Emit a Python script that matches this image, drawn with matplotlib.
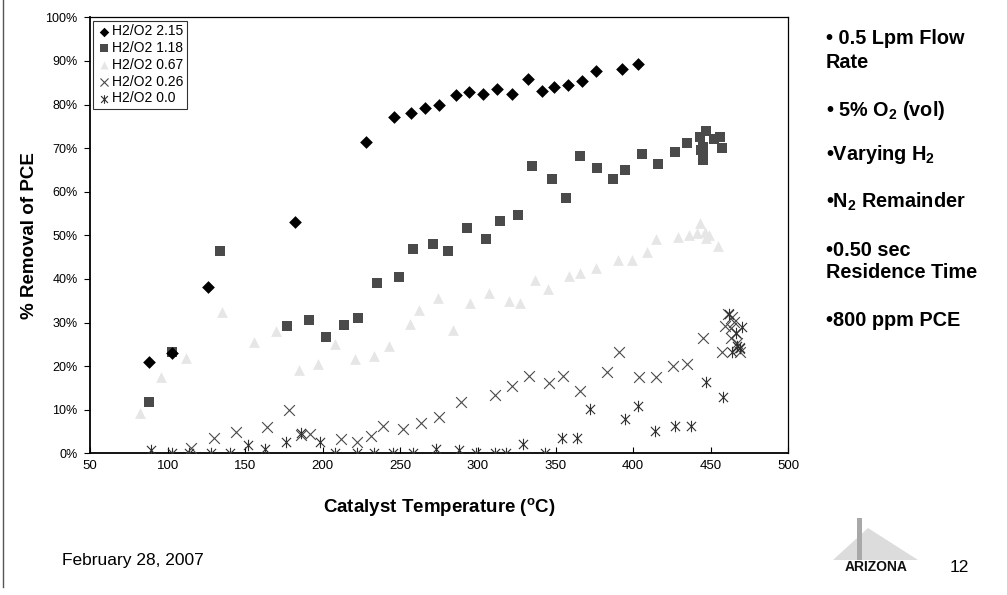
import matplotlib
matplotlib.use("Agg")
import matplotlib.pyplot as plt
from matplotlib.patches import Polygon, Rectangle
from matplotlib.lines import Line2D
from matplotlib.path import Path

plt.rcParams['font.family'] = ['Liberation Sans', 'DejaVu Sans']
plt.rcParams['mathtext.fontset'] = 'custom'
plt.rcParams['mathtext.rm'] = 'Liberation Sans'
plt.rcParams['mathtext.bf'] = 'Liberation Sans:bold'
plt.rcParams['mathtext.it'] = 'Liberation Sans:italic'

# ---- data ----
t_215 = [88, 103, 126, 182, 228, 246, 257, 266, 275, 286, 294, 303, 312, 322, 332, 341, 349, 358, 367, 376, 393, 403]
r_215 = [21.0, 23.0, 38.1, 53.0, 71.5, 77.2, 78.1, 79.3, 79.8, 82.2, 82.9, 82.3, 83.6, 82.3, 85.8, 83.1, 83.9, 84.5, 85.5, 87.6, 88.2, 89.2]

t_118 = [88, 103, 134, 177, 191, 202, 214, 223, 235, 249, 258, 271, 281, 293, 305, 314, 326, 335, 348, 357, 366, 377, 387, 395, 406, 416, 427, 435,
         443, 447, 445, 445, 445, 444, 452, 456, 457]
r_118 = [11.7, 23.2, 46.4, 29.1, 30.6, 26.6, 29.4, 31.1, 39.1, 40.5, 46.9, 48.1, 46.4, 51.7, 49.1, 53.2, 54.7, 66.0, 62.9, 58.5, 68.3, 65.4, 62.9, 65.0, 68.6, 66.4, 69.1, 71.1,
         72.6, 74.0, 70.3, 68.8, 67.3, 69.5, 72.2, 72.6, 70.1]

t_067 = [82, 96, 112, 135, 156, 170, 185, 197, 208, 221, 233, 243, 256, 262, 274, 284, 295, 307, 320, 327, 337, 345, 359, 366, 376, 390, 399, 409, 415, 429, 436,
         441, 443, 446, 447, 449, 455]
r_067 = [9.2, 17.6, 21.8, 32.3, 25.6, 28.1, 19.1, 20.5, 25.1, 21.6, 22.4, 24.5, 29.6, 32.9, 35.6, 28.3, 34.5, 36.8, 34.9, 34.5, 39.7, 37.7, 40.7, 41.4, 42.6, 44.3, 44.3, 46.1, 49.2, 49.5, 50.0,
         50.5, 52.8, 50.8, 49.3, 50.0, 47.6]

t_026 = [115, 130, 144, 164, 178, 186, 192, 212, 222, 231, 239, 252, 263, 275, 289, 311, 322, 333, 346, 355, 366, 383, 391, 404, 415, 426, 435, 445,
         457, 459, 461, 464, 465, 463, 466, 463, 467, 468, 469]
r_026 = [1.3, 3.4, 5.0, 6.0, 9.9, 4.2, 4.4, 3.3, 2.7, 4.0, 6.3, 5.5, 7.0, 8.3, 11.8, 13.4, 15.5, 17.7, 16.1, 17.7, 14.3, 18.6, 23.3, 17.6, 17.4, 20.0, 20.5, 26.4,
         23.3, 29.2, 31.9, 31.3, 30.2, 28.7, 27.5, 26.4, 25.2, 24.1, 23.3]

t_000 = [89, 103, 114, 128, 140, 152, 163, 176, 186, 198, 208, 222, 233, 245, 258, 273, 288, 299, 311, 318, 329, 343, 354, 364, 372, 395, 403, 414, 427, 437, 447, 458,
         462, 464, 466, 467, 469, 470]
r_000 = [0.8, 0, 0, 0, 0, 1.9, 1.1, 2.7, 4.6, 2.5, 0, 0, 0, 0, 0, 0.9, 0.8, 0, 0, 0, 2.1, 0, 3.4, 3.6, 10.2, 7.9, 10.9, 5.1, 6.3, 6.3, 16.3, 12.8,
         32.0, 23.3, 27.5, 24.5, 24.1, 29.0]

labels = ['H2/O2 2.15', 'H2/O2 1.18', 'H2/O2 0.67', 'H2/O2 0.26', 'H2/O2 0.0']
y_ticks = list(range(0, 101, 10))
y_ticklabels = [f'{v}%' for v in y_ticks]
x_ticks = list(range(50, 501, 50))

# asterisk marker: vertical bar + X
star = Path([(0, -1), (0, 1), (-0.8, -0.8), (0.8, 0.8), (-0.8, 0.8), (0.8, -0.8)],
            [Path.MOVETO, Path.LINETO, Path.MOVETO, Path.LINETO, Path.MOVETO, Path.LINETO])

fig = plt.figure(figsize=(10.07, 5.95), dpi=100)
ax = fig.add_axes([90/1007, 1-453.3/595, (788.3-90)/1007, (453.3-17.3)/595])

ax.scatter(t_215, r_215, marker='D', s=42, c='black', linewidths=0, label=labels[0], zorder=5)
ax.scatter(t_118, r_118, marker='s', s=52, c='#4a4a4a', linewidths=0, label=labels[1], zorder=4)
ax.scatter(t_067, r_067, marker='^', s=60, c='#e6e6e6', linewidths=0, label=labels[2], zorder=3)
ax.scatter(t_026, r_026, marker='x', s=60, c='#4a4a4a', linewidths=0.8, label=labels[3], zorder=6)
ax.scatter(t_000, r_000, marker=star, s=68, c='#303030', linewidths=0.8, label=labels[4], zorder=7)

ax.set_xlim(50, 500)
ax.set_ylim(0, 100)
ax.set_xticks(x_ticks)
ax.set_yticks(y_ticks)
ax.set_yticklabels(y_ticklabels)
ax.tick_params(axis='x', direction='in', length=4, labelsize=9.5, pad=5, width=0.8)
ax.tick_params(axis='y', direction='out', length=4, labelsize=9, pad=5, width=0.8)
for s in ['left', 'bottom']:
    ax.spines[s].set_linewidth(1.3)
for s in ['top', 'right']:
    ax.spines[s].set_linewidth(0.9)

ax.set_xlabel(r'Catalyst Temperature ($^{\mathbf{o}}$C)', fontsize=13.5, fontweight='bold', labelpad=17)
ax.set_ylabel('% Removal of PCE', fontsize=13.5, fontweight='bold', labelpad=5)

leg = ax.legend(loc='upper left', fontsize=10, frameon=True, fancybox=False, edgecolor='black',
                borderpad=0.25, labelspacing=0.2, handletextpad=0.1, handlelength=1.0,
                borderaxespad=0.25, markerscale=0.75)
leg.get_frame().set_linewidth(0.8)

# right-side notes
notes = [
    (38, '• 0.5 Lpm Flow'),
    (62, 'Rate'),
    (110, r'• 5% O$_{\mathbf{2}}$ (vol)'),
    (155, r'•Varying H$_{\mathbf{2}}$'),
    (202, r'•N$_{\mathbf{2}}$ Remainder'),
    (250, '•0.50 sec'),
    (273, 'Residence Time'),
    (320, '•800 ppm PCE'),
]
for ypx, txt in notes:
    fig.text(826/1007, 1-ypx/595, txt, fontsize=14.3, fontweight='bold', va='center', ha='left')

fig.text(62/1007, 1-560/595, 'February 28, 2007', fontsize=12.5, va='center', ha='left')
fig.text(950/1007, 1-568/595, '12', fontsize=12.5, va='center', ha='left')

# logo approximation
tri = Polygon([(833/1007, 1-560/595), (868/1007, 1-528/595), (918/1007, 1-560/595)],
              closed=True, transform=fig.transFigure, facecolor='#dcdcdc', edgecolor='none')
fig.patches.append(tri)
fig.patches.append(Rectangle((857/1007, 1-560/595), 5/1007, 42/595, transform=fig.transFigure,
                             facecolor='#a8a8a8', edgecolor='none'))
fig.text(876/1007, 1-567/595, 'ARIZONA', fontsize=10, fontweight='heavy', va='center', ha='center',
         color='#111111')

# slide border at left
fig.add_artist(Line2D([3/1007, 3/1007], [1-0/595, 1-587/595], transform=fig.transFigure, color='#555555', linewidth=1))

fig.savefig('out.png', dpi=100)
